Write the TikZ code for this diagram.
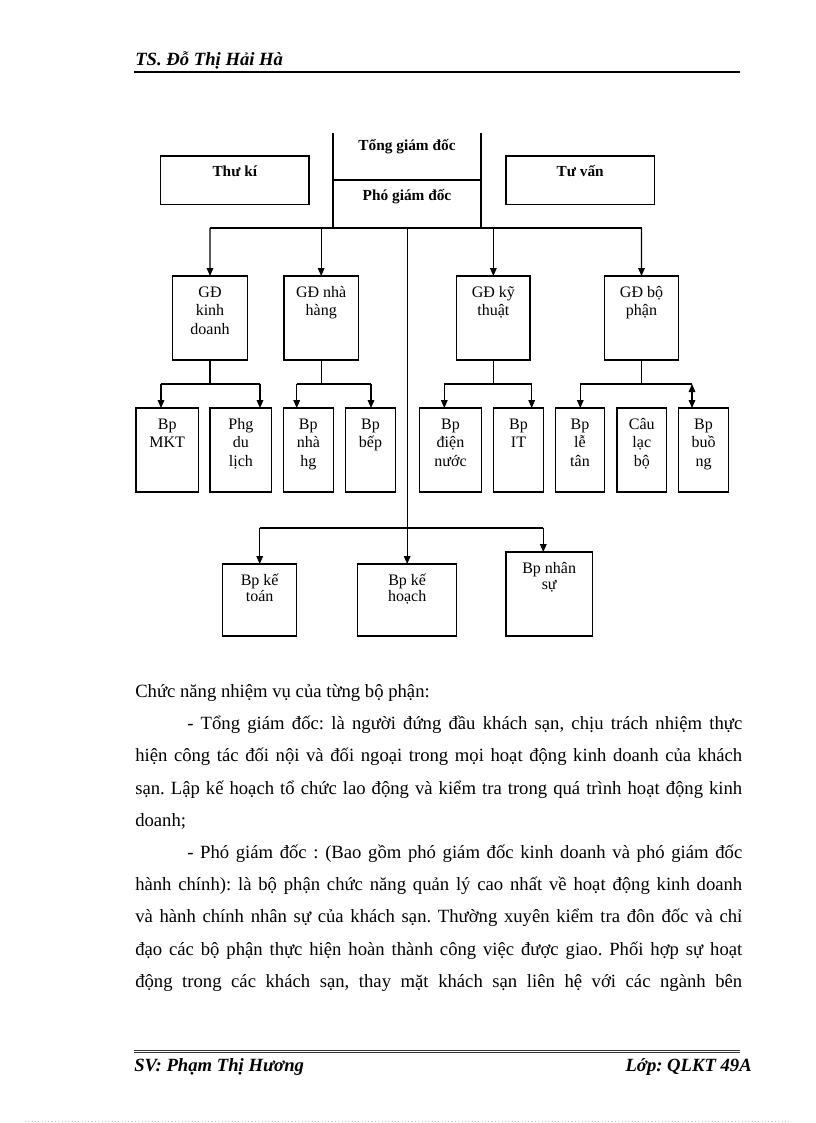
\documentclass[tikz,border=0pt]{standalone}
\usepackage{fontspec}
\setmainfont{Liberation Serif}
\usetikzlibrary{arrows.meta,fit}
\frenchspacing
\begin{document}
\begin{tikzpicture}[x=0.75pt,y=-0.75pt,
  ln/.style={line width=0.8pt},
  arr/.style={line width=0.8pt,-{Triangle[length=6pt,width=5pt]}},
  darr/.style={line width=0.8pt,{Triangle[length=6pt,width=5pt]}-{Triangle[length=6pt,width=5pt]}},
  box/.style={draw,line width=0.8pt,inner sep=0pt,outer sep=0pt,fit={#1}},
  lbl/.style={font=\fontsize{12}{13.7}\selectfont,align=center,inner sep=0pt,anchor=base},
  lblb/.style={font=\fontsize{12}{12.2}\selectfont,align=center,inner sep=0pt,anchor=base},
  hd/.style={font=\fontsize{11.5}{13}\selectfont\bfseries,inner sep=0pt,anchor=base},
  pg/.style={font=\fontsize{14}{16}\selectfont\bfseries\itshape,inner sep=0pt},
  bt/.style={font=\fontsize{14}{16}\selectfont\frenchspacing,inner sep=0pt,anchor=base west}
]
\fill[white] (0,0) rectangle (816,1123);
\useasboundingbox (0,0) rectangle (816,1123);

% page header
\node[pg,anchor=base west] (head) at (135,66) {TS. Đỗ Thị Hải Hà};
\coordinate (hl) at (134,72.3); \coordinate (hr) at (740,72.3);
\draw[line width=1.6pt] (hl) -- (hr);

% top block
\coordinate (tl) at (333,133); \coordinate (tr) at (481,133);
\coordinate (ml) at (333,180); \coordinate (mr) at (481,180);
\coordinate (bl) at (333,228); \coordinate (br) at (481,228);
\draw[ln] (tl) -- (bl);
\draw[ln] (tr) -- (br);
\draw[ln] (ml) -- (mr);
\node[hd] (tgd) at (407,151) {Tổng giám đốc};
\node[hd] (pgd) at (407,201) {Phó giám đốc};

\node[box={(160.7,156) (309,204.3)}] (tk) {};
\node[hd] (tk-t) at (234.8,176.7) {Thư kí};
\node[box={(506,156) (654.3,204.3)}] (tv) {};
\node[hd] (tv-t) at (580.2,176.7) {Tư vấn};

% level 1 boxes (anchor = baseline of last line)
\node[box={(172.7,276) (247.3,360)}] (gdkd) {};
\node[lbl] (gdkd-t) at (210,334) {GĐ\\kinh\\doanh};
\node[box={(284,276) (358.3,360)}] (gdnh) {};
\node[lbl] (gdnh-t) at (321.2,315.8) {GĐ nhà\\hàng};
\node[box={(456.7,276) (530,360)}] (gdkt) {};
\node[lbl] (gdkt-t) at (493.4,315.8) {GĐ kỹ\\thuật};
\node[box={(604.3,276) (678.7,360)}] (gdbp) {};
\node[lbl] (gdbp-t) at (641.5,315.8) {GĐ bộ\\phận};

% level 2 boxes
\node[box={(136,408) (198.3,492)}] (mkt) {};
\node[lbl] (mkt-t) at (167.2,447.8) {Bp\\MKT};
\node[box={(210,408) (271.7,492)}] (dl) {};
\node[lbl] (dl-t) at (240.9,466) {Phg\\du\\lịch};
\node[box={(283.3,408) (333.3,492)}] (nhg) {};
\node[lbl] (nhg-t) at (308.3,466) {Bp\\nhà\\hg};
\node[box={(345.7,408) (395.3,492)}] (bep) {};
\node[lbl] (bep-t) at (370.5,447.8) {Bp\\bếp};
\node[box={(419.3,408) (481.7,492)}] (dn) {};
\node[lbl] (dn-t) at (450.5,466) {Bp\\điện\\nước};
\node[box={(493.7,408) (543.3,492)}] (it) {};
\node[lbl] (it-t) at (518.5,447.8) {Bp\\IT};
\node[box={(555.7,408) (604.3,492)}] (lt) {};
\node[lbl] (lt-t) at (580,466) {Bp\\lễ\\tân};
\node[box={(617,408) (666.7,492)}] (clb) {};
\node[lbl] (clb-t) at (641.8,466) {Câu\\lạc\\bộ};
\node[box={(678.7,408) (728.3,492)}] (bu) {};
\node[lbl] (bu-t) at (703.5,466) {Bp\\buồ\\ng};

% bottom boxes
\node[box={(222.7,564) (296.7,636)}] (kt) {};
\node[lblb] (kt-t) at (259.7,601.8) {Bp kế\\toán};
\node[box={(357.7,564) (456.7,636)}] (kh) {};
\node[lblb] (kh-t) at (407.2,601.8) {Bp kế\\hoạch};
\node[box={(506,552) (592.3,636)}] (ns) {};
\node[lblb] (ns-t) at (549.2,589.8) {Bp nhân\\sự};

% main bus
\coordinate (busL) at (210,228); \coordinate (busR) at (641.5,228);
\coordinate (busC) at (407.2,228);
\draw[ln] (busL) -- (busR);
\draw[arr] (busL) -- (gdkd.north);
\draw[arr] (gdnh.north |- busL) -- (gdnh.north);
\draw[arr] (gdkt.north |- busL) -- (gdkt.north);
\draw[arr] (busR) -- (gdbp.north);
\draw[arr] (busC) -- (kh.north);

% bottom bus
\coordinate (lbL) at (259.7,528); \coordinate (lbR) at (543.3,528);
\draw[ln] (lbL) -- (lbR);
\draw[arr] (lbL) -- (kt.north);
\draw[arr] (lbR) -- (lbR |- ns.north);

% branches
\coordinate (kdL) at (161,384); \coordinate (kdR) at (260,384);
\draw[ln] (gdkd.south) -- (gdkd.south |- kdL);
\draw[ln] (kdL) -- (kdR);
\draw[arr] (kdL) -- (kdL |- mkt.north);
\draw[arr] (kdR) -- (kdR |- dl.north);

\coordinate (nhL) at (296.7,384); \coordinate (nhR) at (371,384);
\draw[ln] (gdnh.south) -- (gdnh.south |- nhL);
\draw[ln] (nhL) -- (nhR);
\draw[arr] (nhL) -- (nhL |- nhg.north);
\draw[arr] (nhR) -- (nhR |- bep.north);

\coordinate (ktL) at (444.3,384); \coordinate (ktR) at (531.7,384);
\draw[ln] (gdkt.south) -- (gdkt.south |- ktL);
\draw[ln] (ktL) -- (ktR);
\draw[arr] (ktL) -- (ktL |- dn.north);
\draw[arr] (ktR) -- (ktR |- it.north);

\coordinate (bpL) at (580.3,384); \coordinate (bpR) at (692,384);
\draw[ln] (gdbp.south) -- (gdbp.south |- bpL);
\draw[ln] (bpL) -- (bpR);
\draw[arr] (bpL) -- (bpL |- lt.north);
\draw[darr] (bpR) -- (bpR |- bu.north);

% body text
\node[bt] (p0) at (135,697) {Chức năng nhiệm vụ của từng bộ phận:};
\node[bt] (p1) at (187,729) {\makebox[416.25pt][s]{- Tổng giám đốc: là người đứng đầu khách sạn, chịu trách nhiệm thực}};
\node[bt] (p2) at (135,761) {\makebox[455.25pt][s]{hiện công tác đối nội và đối ngoại trong mọi hoạt động kinh doanh của khách}};
\node[bt] (p3) at (135,794) {\makebox[455.25pt][s]{sạn. Lập kế hoạch tổ chức lao động và kiểm tra trong quá trình hoạt động kinh}};
\node[bt] (p4) at (135,826) {doanh;};
\node[bt] (p5) at (187,858) {\makebox[416.25pt][s]{- Phó giám đốc : (Bao gồm phó giám đốc kinh doanh và phó giám đốc}};
\node[bt] (p6) at (135,890) {\makebox[455.25pt][s]{hành chính): là bộ phận chức năng quản lý cao nhất về hoạt động kinh doanh}};
\node[bt] (p7) at (135,922) {\makebox[455.25pt][s]{và hành chính nhân sự của khách sạn. Thường xuyên kiểm tra đôn đốc và chỉ}};
\node[bt] (p8) at (135,955) {\makebox[455.25pt][s]{đạo các bộ phận thực hiện hoàn thành công việc được giao. Phối hợp sự hoạt}};
\node[bt] (p9) at (135,987) {\makebox[455.25pt][s]{động trong các khách sạn, thay mặt khách sạn liên hệ với các ngành bên}};

% page footer
\coordinate (f1l) at (134,1050); \coordinate (f1r) at (740,1050);
\coordinate (f2l) at (134,1052.7); \coordinate (f2r) at (740,1052.7);
\draw[line width=0.6pt,black!80] (f1l) -- (f1r);
\draw[line width=0.6pt,black!80] (f2l) -- (f2r);
\node[pg,anchor=base west] (sv) at (134,1071) {SV: Phạm Thị Hương};
\node[pg,anchor=base east] (lop) at (752,1071) {Lớp: QLKT 49A};
\coordinate (dl1) at (25,1121); \coordinate (dl2) at (790,1121);
\draw[black!25,line width=0.5pt,dotted] (dl1) -- (dl2);
\end{tikzpicture}
\end{document}
